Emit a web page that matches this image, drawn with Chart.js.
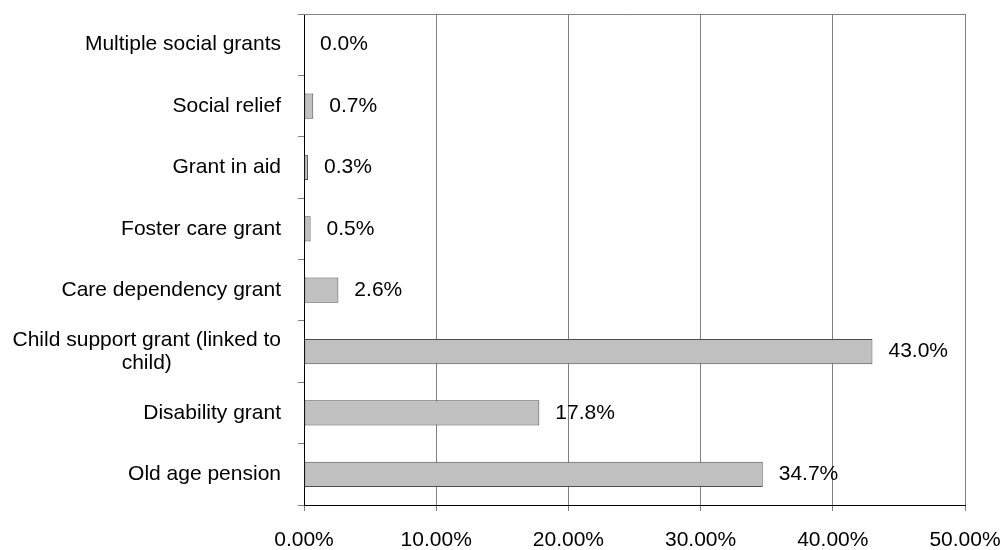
<!DOCTYPE html>
<html>
<head>
  <meta charset="UTF-8">
  <title>Social grants</title>
  <script src="https://cdn.jsdelivr.net/npm/chart.js"></script>
  <style>
    body {
      margin: 0;
      padding: 0;
      background-color: white;
    }
    #wrap {
      width: 1001px;
      height: 550px;
    }
  </style>
</head>
<body>
  <div id="wrap"><canvas id="grafica"></canvas></div>

  <script type="text/javascript">
    // grant types, top to bottom
    const categorias = [
      'Multiple social grants',
      'Social relief',
      'Grant in aid',
      'Foster care grant',
      'Care dependency grant',
      ['Child support grant (linked to', 'child)'],
      'Disability grant',
      'Old age pension'
    ];
    const porcentajes = [0.0, 0.7, 0.3, 0.5, 2.6, 43.0, 17.8, 34.7];
    const ejeMin = 0;
    const ejeMax = 50;
    const ejePaso = 10;

    const fuente = '"Liberation Sans", Arial, sans-serif';
    const gris = '#808080';

    // category names: block right aligned, lines centred inside the block
    const etiquetasY = {
      id: 'etiquetasY',
      afterDraw(chart) {
        const ctx = chart.ctx;
        const y = chart.scales.y;
        const derecha = y.right - 23;
        ctx.save();
        ctx.font = '21px ' + fuente;
        ctx.fillStyle = '#000';
        ctx.textAlign = 'center';
        ctx.textBaseline = 'middle';
        categorias.forEach(function(cat, i) {
          const lineas = Array.isArray(cat) ? cat : [cat];
          const ancho = Math.max.apply(null, lineas.map(l => ctx.measureText(l).width));
          const centro = y.getPixelForTick(i);
          const alto = 23;
          lineas.forEach(function(l, j) {
            ctx.fillText(l, derecha - ancho / 2, centro + (j - (lineas.length - 1) / 2) * alto);
          });
        });
        ctx.restore();
      }
    };

    // value labels to the right of each bar
    const etiquetasValor = {
      id: 'etiquetasValor',
      afterDatasetsDraw(chart) {
        const ctx = chart.ctx;
        const meta = chart.getDatasetMeta(0);
        ctx.save();
        ctx.font = '21px ' + fuente;
        ctx.fillStyle = '#000';
        ctx.textAlign = 'left';
        ctx.textBaseline = 'middle';
        meta.data.forEach(function(barra, i) {
          ctx.fillText(porcentajes[i].toFixed(1) + '%', barra.x + 16, barra.y);
        });
        ctx.restore();
      }
    };

    // top edge of the plot area
    const marco = {
      id: 'marco',
      beforeDatasetsDraw(chart) {
        const a = chart.chartArea;
        const ctx = chart.ctx;
        ctx.save();
        ctx.strokeStyle = gris;
        ctx.lineWidth = 1;
        ctx.beginPath();
        ctx.moveTo(a.left - 6, a.top + 0.5);
        ctx.lineTo(a.right, a.top + 0.5);
        ctx.stroke();
        ctx.restore();
      }
    };

    new Chart(document.getElementById('grafica').getContext('2d'), {
      type: 'bar',
      data: {
        labels: categorias,
        datasets: [{
          data: porcentajes,
          backgroundColor: '#c0c0c0',
          borderColor: '#4d4d4d',
          borderWidth: 1,
          borderSkipped: false,
          categoryPercentage: 1,
          barPercentage: 0.41
        }]
      },
      options: {
        indexAxis: 'y',
        responsive: true,
        maintainAspectRatio: false,
        animation: false,
        layout: {
          padding: { top: 14, right: 36, left: 0, bottom: 0 }
        },
        plugins: {
          legend: { display: false },
          tooltip: { enabled: false }
        },
        scales: {
          x: {
            min: ejeMin,
            max: ejeMax,
            afterFit: function(scale) {
              scale.height = 45;
              // let the end labels hang past the plot edges
              scale.paddingLeft = 0;
              scale.paddingRight = 0;
            },
            grid: {
              color: gris,
              tickColor: gris,
              tickLength: 6,
              lineWidth: 1
            },
            border: { color: '#000', width: 1 },
            ticks: {
              stepSize: ejePaso,
              padding: 17,
              color: '#000',
              font: { family: fuente, size: 21 },
              callback: function(v) { return v.toFixed(2) + '%'; }
            }
          },
          y: {
            afterFit: function(scale) { scale.width = 304; },
            grid: {
              drawOnChartArea: false,
              tickLength: 6,
              tickColor: gris,
              offset: true
            },
            border: { color: '#000', width: 1 },
            ticks: { display: false }
          }
        }
      },
      plugins: [marco, etiquetasValor, etiquetasY]
    });
  </script>
</body>
</html>
